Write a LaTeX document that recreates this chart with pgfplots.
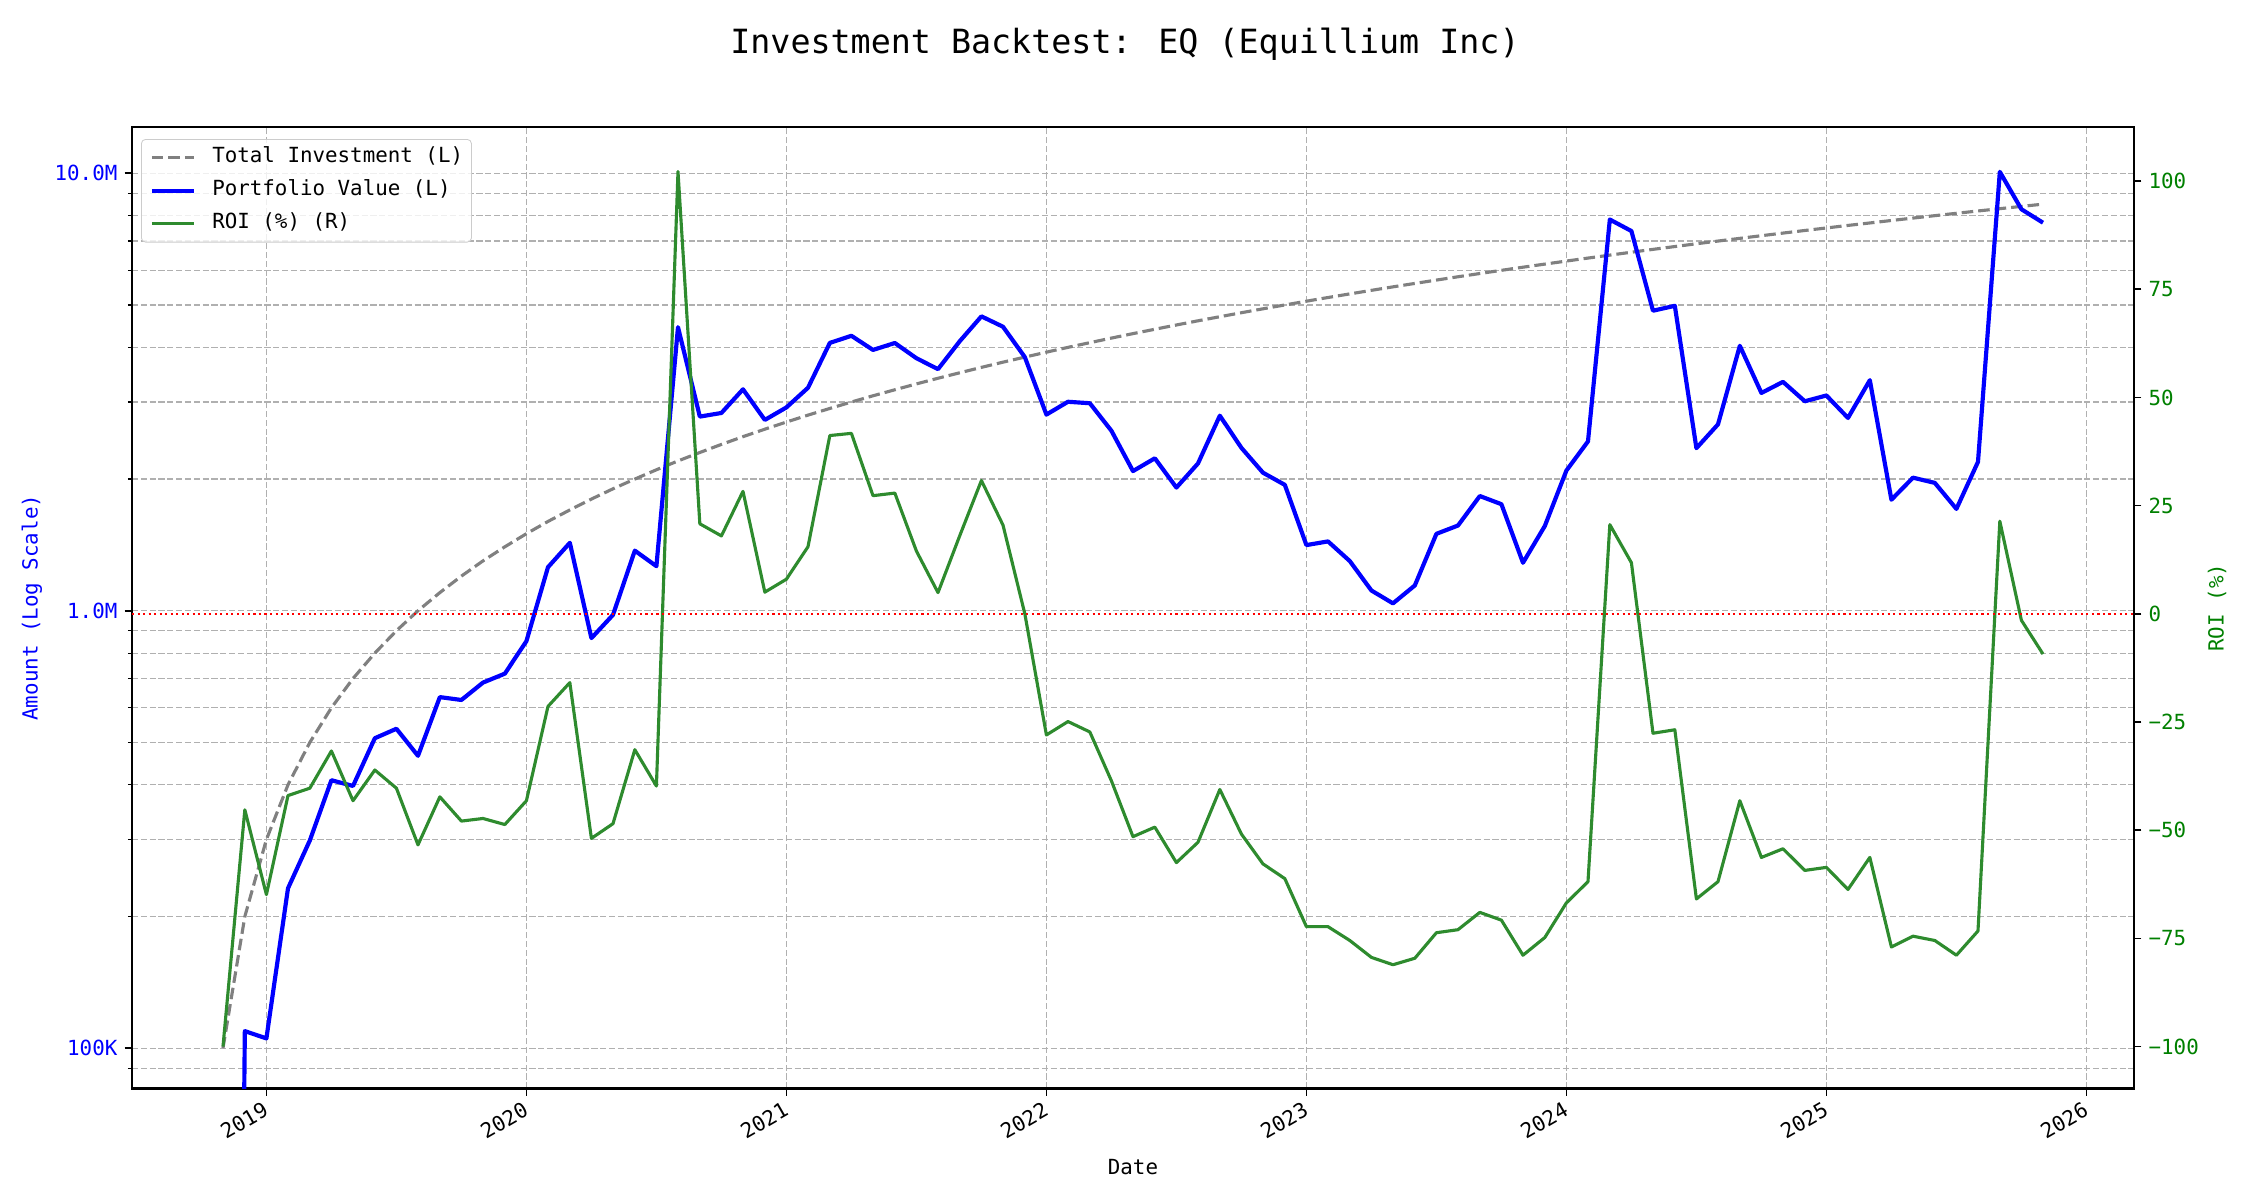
\documentclass[border=0pt]{standalone}
\usepackage{pgfplots}
\pgfplotsset{compat=1.18}
\usepackage{pgfplotstable}
\usepackage{fontspec}
\setmainfont{DejaVu Sans Mono}
\setmonofont{DejaVu Sans Mono}

\definecolor{roigreen}{RGB}{46,139,46}
\definecolor{ticgreen}{RGB}{0,128,0}
\definecolor{gridgray}{RGB}{176,176,176}
\definecolor{leggray}{RGB}{204,204,204}

\pgfplotstableread{
x inv val roi
2018.833 100000 1 -100
2018.917 200000 109400 -45.3
2019.000 300000 105300 -64.9
2019.083 400000 232000 -42.0
2019.167 500000 298500 -40.3
2019.250 600000 409800 -31.7
2019.333 700000 397600 -43.2
2019.417 800000 511200 -36.1
2019.500 900000 537300 -40.3
2019.583 1000000 466000 -53.4
2019.667 1100000 634700 -42.3
2019.750 1200000 625200 -47.9
2019.833 1300000 685100 -47.3
2019.917 1400000 718200 -48.7
2020.000 1500000 852000 -43.2
2020.083 1600000 1257600 -21.4
2020.167 1700000 1429700 -15.9
2020.250 1800000 865800 -51.9
2020.333 1900000 978500 -48.5
2020.417 2000000 1372000 -31.4
2020.500 2100000 1264200 -39.8
2020.583 2200000 4448400 102.2
2020.667 2300000 2778400 20.8
2020.750 2400000 2832000 18.0
2020.833 2500000 3207500 28.3
2020.917 2600000 2730000 5.0
2021.000 2700000 2916000 8.0
2021.083 2800000 3234000 15.5
2021.167 2900000 4094800 41.2
2021.250 3000000 4251000 41.7
2021.333 3100000 3946300 27.3
2021.417 3200000 4092800 27.9
2021.500 3300000 3778500 14.5
2021.583 3400000 3566600 4.9
2021.667 3500000 4133500 18.1
2021.750 3600000 4708800 30.8
2021.833 3700000 4458500 20.5
2021.917 3800000 3800000 0.0
2022.000 3900000 2808000 -28.0
2022.083 4000000 3004000 -24.9
2022.167 4100000 2980700 -27.3
2022.250 4200000 2578800 -38.6
2022.333 4300000 2085500 -51.5
2022.417 4400000 2230800 -49.3
2022.500 4500000 1912500 -57.5
2022.583 4600000 2171200 -52.8
2022.667 4700000 2791800 -40.6
2022.750 4800000 2356800 -50.9
2022.833 4900000 2067800 -57.8
2022.917 5000000 1940000 -61.2
2023.000 5100000 1412700 -72.3
2023.083 5200000 1440400 -72.3
2023.167 5300000 1298500 -75.5
2023.250 5400000 1112400 -79.4
2023.333 5500000 1039500 -81.1
2023.417 5600000 1142400 -79.6
2023.500 5700000 1499100 -73.7
2023.583 5800000 1566000 -73.0
2023.667 5900000 1829000 -69.0
2023.750 6000000 1752000 -70.8
2023.833 6100000 1287100 -78.9
2023.917 6200000 1562400 -74.8
2024.000 6300000 2091600 -66.8
2024.083 6400000 2438400 -61.9
2024.167 6500000 7839000 20.6
2024.250 6600000 7378800 11.8
2024.333 6700000 4850800 -27.6
2024.417 6800000 4977600 -26.8
2024.500 6900000 2352900 -65.9
2024.583 7000000 2667000 -61.9
2024.667 7100000 4032800 -43.2
2024.750 7200000 3146400 -56.3
2024.833 7300000 3336100 -54.3
2024.917 7400000 3011800 -59.3
2025.000 7500000 3105000 -58.6
2025.083 7600000 2758800 -63.7
2025.167 7700000 3364900 -56.3
2025.250 7800000 1794000 -77.0
2025.333 7900000 2014500 -74.5
2025.417 8000000 1960000 -75.5
2025.500 8100000 1709100 -78.9
2025.583 8200000 2189400 -73.3
2025.667 8300000 10076200 21.4
2025.750 8400000 8274000 -1.5
2025.833 8500000 7709500 -9.3
}\datatable

\pgfplotsset{
  common/.style={
    at={(0pt,0pt)}, anchor=south west,
    scale only axis, width=960.96pt, height=461.52pt,
    xmin=2018.483, xmax=2026.183,
    tick align=outside,
    major tick length=3.5pt, minor tick length=2pt,
    major tick style={black, line width=0.8pt},
    minor tick style={black, line width=0.6pt},
    axis line style={line width=1pt, -},
    tick label style={font=\fontsize{10}{12}\selectfont},
    label style={font=\fontsize{10}{12}\selectfont},
  }
}

\begin{document}
\begin{tikzpicture}
\path[use as bounding box] (-63.36pt,-53.52pt) rectangle (1016.64pt,522.48pt);

\begin{axis}[
  common,
  ymode=log, ymin=80900, ymax=12760000,
  xtick={2019,2020,2021,2022,2023,2024,2025,2026},
  xticklabels={2019,2020,2021,2022,2023,2024,2025,2026},
  ytick={100000,1000000,10000000},
  yticklabels={100K,1.0M,10.0M},
  minor ytick={90000,200000,300000,400000,500000,600000,700000,800000,900000,2000000,3000000,4000000,5000000,6000000,7000000,8000000,9000000},
  xtick pos=left, ytick pos=left,
  xmajorgrids, ymajorgrids, yminorgrids,
  major grid style={gridgray, line width=0.6pt, dash pattern=on 2.96pt off 1.28pt},
  minor grid style={gridgray, line width=0.6pt, dash pattern=on 2.96pt off 1.28pt},
  yticklabel style={blue},
  xticklabel style={rotate=30, anchor=north east, xshift=-2pt, inner sep=1pt},
  xlabel={Date},
  xlabel style={at={(axis description cs:0.5,-0.0816)}, anchor=center},
  ylabel={Amount (Log Scale)},
  ylabel style={blue, at={(axis description cs:-0.04995,0.5)}, anchor=center},
  every axis title shift=0pt,
  title={Investment Backtest: EQ (Equillium Inc)},
  title style={at={(axis description cs:0.496,1.0865)}, anchor=center, font=\fontsize{16}{19}\selectfont},
]
\addplot[gray, line width=1.5pt, dash pattern=on 5.55pt off 2.4pt] table[x=x, y=inv]{\datatable};
\addplot[blue, line width=2pt, line join=round] table[x=x, y=val]{\datatable};
\end{axis}

\begin{axis}[
  common,
  ymin=-109.7, ymax=112.5,
  axis x line=none, axis y line*=right,
  ytick={-100,-75,-50,-25,0,25,50,75,100},
  yticklabels={−100,−75,−50,−25,0,25,50,75,100},
  ytick pos=right,
  yticklabel style={ticgreen},
  ylabel={ROI (\%)},
  ylabel style={ticgreen, at={(axis description cs:1.0415,0.5)}, anchor=center},
  legend cell align=left,
  legend image code/.code={\draw[#1] (0pt,0pt) -- (20pt,0pt);},
  legend style={at={(axis description cs:0.0045,0.9875)}, anchor=north west,
    draw=leggray, fill=white, fill opacity=0.8, draw opacity=1, text opacity=1,
    rounded corners=2pt, font=\fontsize{10}{12}\selectfont,
    inner xsep=4pt, inner ysep=3.8pt, row sep=5.84pt, column sep=8pt,
    nodes={inner sep=0pt, text height=7.5pt, text depth=2.5pt}},
]
\addlegendimage{gray, line width=1.5pt, dash pattern=on 5.55pt off 2.4pt}
\addlegendentry{Total Investment (L)}
\addlegendimage{blue, line width=2pt}
\addlegendentry{Portfolio Value (L)}
\addplot[roigreen, line width=1.5pt, line join=round] table[x=x, y=roi]{\datatable};
\addlegendentry{ROI (\%) (R)}
\addplot[red, line width=1pt, dash pattern=on 1pt off 1.65pt, forget plot] coordinates {(2018.483,0) (2026.183,0)};
\end{axis}
\end{tikzpicture}
\end{document}
